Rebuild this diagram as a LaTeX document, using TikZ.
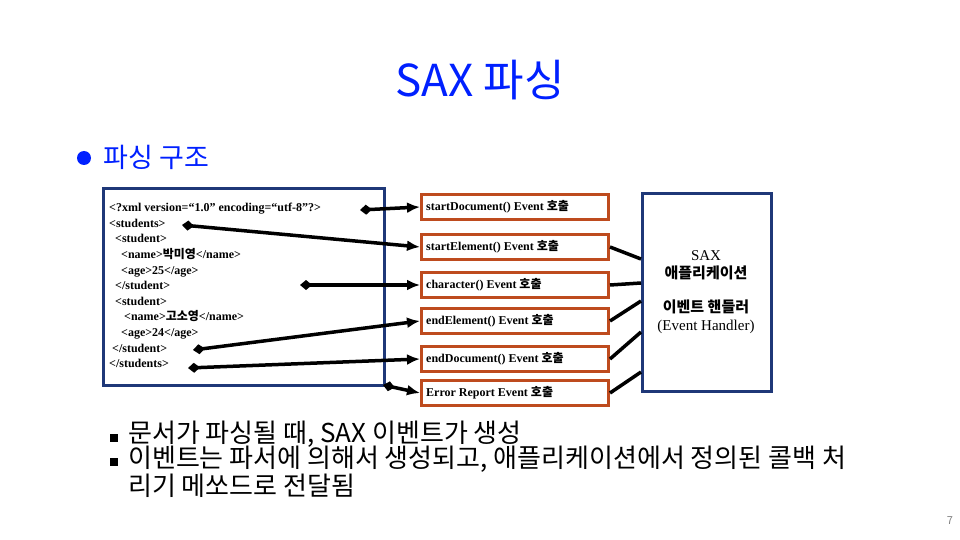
\documentclass[tikz,border=0pt]{standalone}
\usepackage{fontspec}
\setmainfont{Liberation Serif}
\newfontfamily\kr{Noto Sans CJK KR}
\newcommand{\krb}{\kr\bfseries}
\usetikzlibrary{arrows.meta}
\definecolor{tblue}{RGB}{0,32,255}
\definecolor{nblue}{RGB}{31,56,120}
\definecolor{rbrown}{RGB}{190,75,30}
\begin{document}
\begin{tikzpicture}[x=1pt,y=-1pt,
 evbox/.style={draw=rbrown,line width=3pt,minimum width=187pt,minimum height=25pt,anchor=north west,inner sep=0pt},
 evtxt/.style={font=\fontsize{12}{13}\selectfont\bfseries,anchor=west,inner sep=6pt},
 conn/.style={line width=3.5pt,{Diamond[length=12pt,width=10pt]}-{Latex[length=13pt,width=11pt]}},
 hl/.style={line width=3.5pt}]
\useasboundingbox (0,0) rectangle (960,540);
\node[text=tblue,font=\kr\fontsize{44}{48}\selectfont] (title) at (480,80) {SAX 파싱};
\fill[tblue] (84,158) circle (7);
\node[anchor=west,text=tblue,font=\kr\fontsize{27}{30}\selectfont] (sub) at (100,157) {파싱 구조};
% left box
\draw[nblue,line width=3pt] (103,188) rectangle (384,385);
\node[anchor=north west,align=left,font=\fontsize{12}{15.6}\selectfont\bfseries,inner sep=0pt] (xml) at (109,203) {%
<?xml version=“1.0” encoding=“utf-8”?>\\
<students>\\
\ \ <student>\\
\ \ \ \ <name>{\krb 박미영}</name>\\
\ \ \ \ <age>25</age>\\
\ \ </student>\\
\ \ <student>\\
\ \ \ \ \ <name>{\krb 고소영}</name>\\
\ \ \ \ <age>24</age>\\
\ </student>\\
</students>};
\coordinate (p1) at (360,210);
\coordinate (p2) at (182,225);
\coordinate (p3) at (300,285);
\coordinate (p4) at (193,350);
\coordinate (p5) at (188,368);
\coordinate (p6) at (383,385);
% event boxes
\node[evbox] (e1) at (420,193) {};
\node[evbox] (e2) at (420,233) {};
\node[evbox] (e3) at (420,271) {};
\node[evbox] (e4) at (420,307) {};
\node[evbox] (e5) at (420,345) {};
\node[evbox] (e6) at (420,379) {};
\node[evtxt] at (e1.west) {startDocument() Event {\krb 호출}};
\node[evtxt] at (e2.west) {startElement() Event {\krb 호출}};
\node[evtxt] at (e3.west) {character() Event {\krb 호출}};
\node[evtxt] at (e4.west) {endElement() Event {\krb 호출}};
\node[evtxt] at (e5.west) {endDocument() Event {\krb 호출}};
\node[evtxt] at (e6.west) {Error Report Event {\krb 호출}};
\draw[conn] (p1) -- (e1.west);
\draw[conn] (p2) -- (e2.west);
\draw[conn] (p3) -- (e3.west);
\draw[conn] (p4) -- (e4.west);
\draw[conn] (p5) -- (e5.west);
\draw[conn] (p6) -- (e6.west);
% right box
\node[draw=nblue,line width=3pt,minimum width=129pt,minimum height=198pt,anchor=north west,inner sep=0pt] (app) at (641,192) {};
\node[align=center,font=\fontsize{15}{18}\selectfont] (apptxt) at (706,292) {SAX\\{\krb 애플리케이션}\\[16pt]{\krb 이벤트 핸들러}\\(Event Handler)};
\draw[hl] (e2.east) -- (641,259);
\draw[hl] (e3.east) -- (641,283);
\draw[hl] (e4.east) -- (641,301);
\draw[hl] (e5.east) -- (641,332);
\draw[hl] (e6.east) -- (641,372);
% bottom bullets
\fill (110,434) rectangle (118,442);
\fill (110,458) rectangle (118,466);
\node[anchor=north west,align=left,font=\kr\fontsize{26}{25}\selectfont,inner sep=0pt] (b1) at (128,421) {문서가 파싱될 때, SAX 이벤트가 생성};
\node[anchor=north west,align=left,font=\kr\fontsize{26}{25}\selectfont,inner sep=0pt] (b2) at (128,446) {이벤트는 파서에 의해서 생성되고, 애플리케이션에서 정의된 콜백 처\\리기 메쏘드로 전달됨};
\node[font=\kr\fontsize{11}{12}\selectfont,text=gray] (pg) at (950,521) {7};
\end{tikzpicture}
\end{document}
